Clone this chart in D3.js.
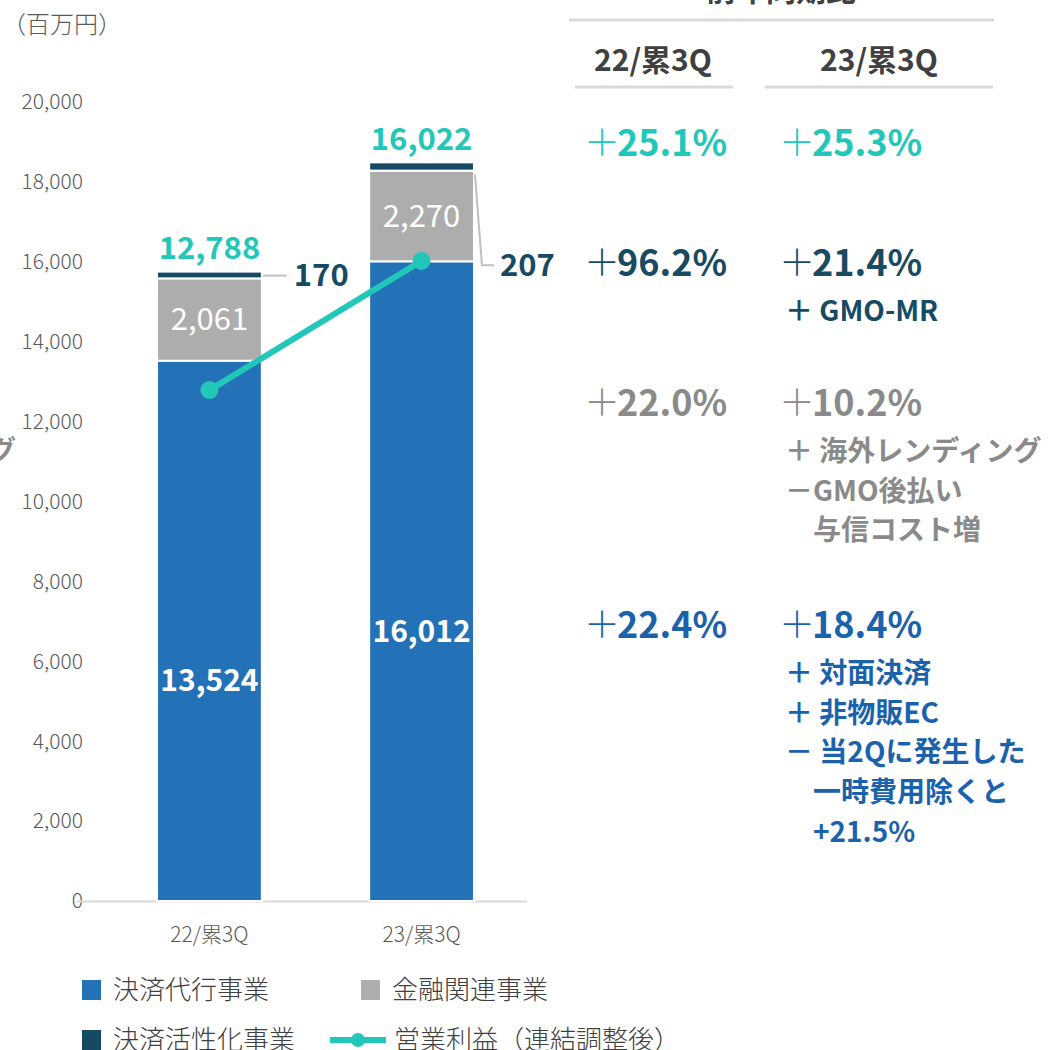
<!DOCTYPE html>
<html>
<head>
<meta charset="utf-8">
<script src="https://cdn.jsdelivr.net/npm/d3@7"></script>
<style>
body{margin:0;background:#fff;}
svg{display:block;font-family:"Noto Sans CJK JP","Noto Sans",sans-serif;}
</style>
</head>
<body>
<svg id="chart" width="1048" height="1050"></svg>
<script>
// data
var categories = ["22/累3Q", "23/累3Q"];
var kessaiDaiko = [13524, 16012];
var kinyu = [2061, 2270];
var kasseika = [170, 207];
var eigyoRieki = [12788, 16022];
var yTicks = [0,2000,4000,6000,8000,10000,12000,14000,16000,18000,20000];

var rowLabels = ["+25.1%", "+96.2%", "+22.0%", "+22.4%"];
var rowLabels23 = ["+25.3%", "+21.4%", "+10.2%", "+18.4%"];
var notes = [
  [],
  ["＋ GMO-MR"],
  ["＋ 海外レンディング", "－GMO後払い", "　与信コスト増"],
  ["＋ 対面決済", "＋ 非物販EC", "－ 当2Qに発生した", "　一時費用除くと", "　+21.5%"]
];

var C_BLUE = "#2371b7", C_GRAY = "#adadad", C_NAVY = "#164a62", C_TEAL = "#21c7b8";
var rowColors = [C_TEAL, "#174b63", "#8a8a8a", "#1b62ad"];

var svg = d3.select("#chart");

var y = d3.scaleLinear().domain([0, 20000]).range([901, 102]);
var x = d3.scaleBand().domain(categories).range([104, 527]).paddingInner(0.506).paddingOuter(0.25);

// y tick labels
svg.append("g").selectAll("text").data(yTicks).enter().append("text")
  .attr("x", 83).attr("y", function(d){ return y(d); }).attr("dy", "0.35em")
  .attr("text-anchor", "end").attr("font-size", 21).attr("font-weight", 300).attr("fill", "#595959")
  .text(function(d){ return d3.format(",")(d); });

svg.append("text").attr("x", 2).attr("y", 33).attr("font-size", 24).attr("font-weight", 300).attr("fill", "#595959").text("（百万円）");
svg.append("text").attr("x", 16).attr("y", 460).attr("text-anchor", "end").attr("font-size", 27)
  .attr("font-weight", "bold").attr("fill", "#8a8a8a").text("グ");

// axis line
svg.append("line").attr("x1", 77).attr("x2", 527).attr("y1", 901.5).attr("y2", 901.5)
  .attr("stroke", "#d9d9d9").attr("stroke-width", 2);

svg.append("g").selectAll("text").data(categories).enter().append("text")
  .attr("x", function(d){ return x(d) + x.bandwidth()/2; }).attr("y", 942)
  .attr("text-anchor", "middle").attr("font-size", 21).attr("font-weight", 300).attr("fill", "#595959").text(function(d){ return d; });

// stacked bars
var rows = categories.map(function(c, i){
  return {cat: c, a: kessaiDaiko[i], b: kinyu[i], c: kasseika[i]};
});
var stack = d3.stack().keys(["a", "b", "c"])(rows);
var fills = {a: C_BLUE, b: C_GRAY, c: C_NAVY};

svg.append("g").selectAll("g").data(stack).enter().append("g")
  .attr("fill", function(s){ return fills[s.key]; })
  .selectAll("rect").data(function(s){ return s; }).enter().append("rect")
  .attr("x", function(d){ return x(d.data.cat); })
  .attr("width", x.bandwidth())
  .attr("y", function(d){ return y(d[1]); })
  .attr("height", function(d){ return y(d[0]) - y(d[1]); })
  .attr("stroke", "#fff").attr("stroke-width", 2);

// labels in bars
categories.forEach(function(c, i){
  var cx = x(c) + x.bandwidth()/2;
  svg.append("text").attr("x", cx).attr("y", y(kessaiDaiko[i] / 2) + 50).attr("dy", "0.35em")
    .attr("text-anchor", "middle").attr("font-size", 30).attr("font-weight", "bold").attr("fill", "#fff")
    .text(d3.format(",")(kessaiDaiko[i]));
  svg.append("text").attr("x", cx).attr("y", y(kessaiDaiko[i] + kinyu[i]/2)).attr("dy", "0.35em")
    .attr("text-anchor", "middle").attr("font-size", 31).attr("fill", "#fff")
    .text(d3.format(",")(kinyu[i]));
  var top = kessaiDaiko[i] + kinyu[i] + kasseika[i];
  svg.append("text").attr("x", cx).attr("y", y(top) - 23).attr("dy", "0.35em")
    .attr("text-anchor", "middle").attr("font-size", 31).attr("font-weight", "bold").attr("fill", C_TEAL)
    .text(d3.format(",")(eigyoRieki[i]));
});

// callouts for 決済活性化事業
var top0 = kessaiDaiko[0] + kinyu[0] + kasseika[0];
var bx0 = x(categories[0]) + x.bandwidth();
svg.append("path").attr("d", "M" + (bx0 + 1) + "," + y(top0 - 100) + "H" + (bx0 + 25))
  .attr("stroke", "#bfbfbf").attr("stroke-width", 2).attr("fill", "none");
svg.append("text").attr("x", bx0 + 32).attr("y", y(top0 - 100)).attr("dy", "0.35em")
  .attr("font-size", 31).attr("font-weight", "bold").attr("fill", C_NAVY).text(kasseika[0]);

var top1 = kessaiDaiko[1] + kinyu[1] + kasseika[1];
var bx1 = x(categories[1]) + x.bandwidth();
svg.append("path").attr("d", "M" + (bx1 + 1) + "," + y(top1 - 300) + "L" + (bx1 + 8) + "," + y(kessaiDaiko[1] - 100) + "H" + (bx1 + 20))
  .attr("stroke", "#bfbfbf").attr("stroke-width", 2).attr("fill", "none");
svg.append("text").attr("x", bx1 + 26).attr("y", y(kessaiDaiko[1] - 100)).attr("dy", "0.35em")
  .attr("font-size", 31).attr("font-weight", "bold").attr("fill", C_NAVY).text(kasseika[1]);

// 営業利益 line
var line = d3.line().x(function(d, i){ return x(categories[i]) + x.bandwidth()/2; }).y(function(d){ return y(d); });
svg.append("path").datum(eigyoRieki).attr("d", line).attr("fill", "none")
  .attr("stroke", C_TEAL).attr("stroke-width", 6);
svg.append("g").selectAll("circle").data(eigyoRieki).enter().append("circle")
  .attr("cx", function(d, i){ return x(categories[i]) + x.bandwidth()/2; })
  .attr("cy", function(d){ return y(d); }).attr("r", 9).attr("fill", C_TEAL);

// right-hand comparison table
var tbl = svg.append("g");
tbl.append("text").attr("x", 781).attr("y", 1).attr("text-anchor", "middle").attr("font-size", 30)
  .attr("font-weight", "bold").attr("fill", "#404040").text("前年同期比");
tbl.append("line").attr("x1", 569).attr("x2", 994).attr("y1", 20).attr("y2", 20).attr("stroke", "#d9d9d9").attr("stroke-width", 3);
var colX = [653, 879];
var ulines = [[575, 733], [765, 993]];
categories.forEach(function(c, i){
  tbl.append("text").attr("x", colX[i]).attr("y", 60).attr("dy", "0.35em").attr("text-anchor", "middle")
    .attr("font-size", 30).attr("font-weight", "bold").attr("fill", "#404040").text(c);
  tbl.append("line").attr("x1", ulines[i][0]).attr("x2", ulines[i][1]).attr("y1", 87).attr("y2", 87)
    .attr("stroke", "#d9d9d9").attr("stroke-width", 3);
});

var rowY = [143, 263, 403, 625];
function pct(g, xx, yy, txt, col){
  var t = g.append("text").attr("x", xx).attr("y", yy).attr("dy", "0.35em").attr("font-size", 36).attr("fill", col);
  t.append("tspan").attr("font-weight", 300).text("＋");
  t.append("tspan").attr("font-weight", "bold").attr("dx", -3).text(txt.slice(1));
}
rowLabels.forEach(function(l, i){
  pct(tbl, 584, rowY[i], l, rowColors[i]);
  pct(tbl, 779, rowY[i], rowLabels23[i], rowColors[i]);
  notes[i].forEach(function(n, j){
    tbl.append("text").attr("x", 785).attr("y", rowY[i] + 48 + j * 39.8).attr("dy", "0.35em")
      .attr("font-size", 28).attr("font-weight", "bold").attr("fill", rowColors[i]).text(n);
  });
});

// legend
var legendItems = [
  {name: "決済代行事業", color: C_BLUE, lx: 82, ly: 990, type: "rect"},
  {name: "金融関連事業", color: C_GRAY, lx: 361, ly: 990, type: "rect"},
  {name: "決済活性化事業", color: C_NAVY, lx: 82, ly: 1040, type: "rect"},
  {name: "営業利益（連結調整後）", color: C_TEAL, lx: 330, ly: 1040, type: "line"}
];
var lg = svg.append("g").selectAll("g").data(legendItems).enter().append("g");
lg.each(function(d){
  var g = d3.select(this);
  if (d.type === "rect") {
    g.append("rect").attr("x", d.lx).attr("y", d.ly - 10).attr("width", 19).attr("height", 20).attr("fill", d.color);
    g.append("text").attr("x", d.lx + 31).attr("y", d.ly).attr("dy", "0.35em").attr("font-size", 26)
      .attr("font-weight", 300).attr("fill", "#404040").text(d.name);
  } else {
    g.append("line").attr("x1", d.lx).attr("x2", d.lx + 56).attr("y1", d.ly).attr("y2", d.ly)
      .attr("stroke", d.color).attr("stroke-width", 6);
    g.append("circle").attr("cx", d.lx + 28).attr("cy", d.ly).attr("r", 7).attr("fill", d.color);
    g.append("text").attr("x", d.lx + 64).attr("y", d.ly).attr("dy", "0.35em").attr("font-size", 26)
      .attr("font-weight", 300).attr("fill", "#404040").text(d.name);
  }
});
</script>
</body>
</html>
